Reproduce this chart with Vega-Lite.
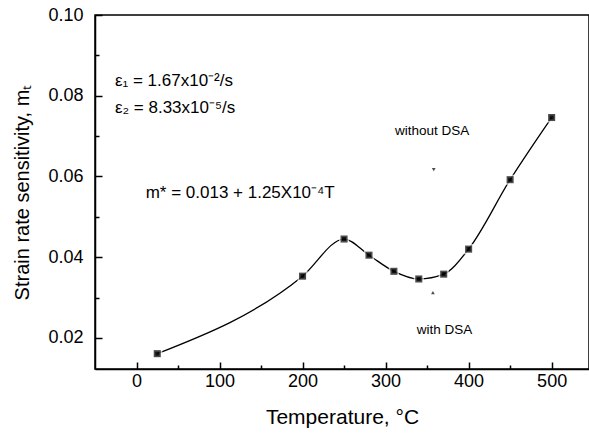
{
  "$schema": "https://vega.github.io/schema/vega-lite/v6.json",
  "width": 494,
  "height": 354,
  "autosize": "none",
  "padding": {"left": 95, "top": 15, "right": 0, "bottom": 65},
  "background": "white",
  "config": {
    "view": {"stroke": "black", "strokeWidth": 1.5},
    "font": "Liberation Sans",
    "axis": {"domainColor": "black", "domainWidth": 1.5, "tickColor": "black", "labelColor": "black", "titleColor": "black", "grid": false, "labelFont": "Liberation Sans", "titleFont": "Liberation Sans", "titleFontWeight": "normal", "zindex": 1}
  },
  "datasets": {
    "pts": [
      {"T": 25, "m": 0.0161},
      {"T": 200, "m": 0.0353},
      {"T": 250, "m": 0.0445},
      {"T": 280, "m": 0.0405},
      {"T": 310, "m": 0.0365},
      {"T": 340, "m": 0.0346},
      {"T": 370, "m": 0.0358},
      {"T": 400, "m": 0.042},
      {"T": 450, "m": 0.0592},
      {"T": 500, "m": 0.0746}
    ],
    "notesLeft": [
      {"T": -26, "m": 0.0836, "label": "ε₁ = 1.67x10⁻²/s"},
      {"T": -26, "m": 0.0770, "label": "ε₂ = 8.33x10⁻⁵/s"},
      {"T": 11, "m": 0.0560, "label": "m* = 0.013 + 1.25X10⁻⁴T"}
    ],
    "notesCenter": [
      {"T": 356, "m": 0.0713, "label": "without DSA"},
      {"T": 371, "m": 0.0220, "label": "with DSA"}
    ],
    "arrows": [
      {"T": 358, "m": 0.0617, "shape": "triangle-down"},
      {"T": 357, "m": 0.0312, "shape": "triangle-up"}
    ]
  },
  "resolve": {"axis": {"x": "independent", "y": "independent"}},
  "layer": [
    {
      "data": {"name": "pts"},
      "mark": {"type": "line", "interpolate": "monotone", "color": "black", "strokeWidth": 1.3},
      "encoding": {
        "x": {
          "field": "T", "type": "quantitative",
          "scale": {"domain": [-50, 545], "nice": false, "zero": false},
          "axis": {
            "orient": "bottom",
            "title": "Temperature, °C", "titleFontSize": 21, "titlePadding": 16,
            "values": [0, 100, 200, 300, 400, 500],
            "labelFontSize": 18, "labelPadding": 3,
            "ticks": false
          }
        },
        "y": {
          "field": "m", "type": "quantitative",
          "scale": {"domain": [0.0123, 0.1], "nice": false, "zero": false},
          "axis": {
            "orient": "left",
            "title": "Strain rate sensitivity, mₜ", "titleFontSize": 20, "titlePadding": 15,
            "values": [0.02, 0.04, 0.06, 0.08, 0.1],
            "format": ".2f",
            "labelFontSize": 18, "labelPadding": 12,
            "ticks": false
          }
        }
      }
    },
    {
      "data": {"name": "pts"},
      "mark": {"type": "point", "shape": "square", "filled": true, "size": 50, "color": "black", "stroke": "white", "strokeWidth": 3, "strokeOpacity": 1},
      "encoding": {
        "x": {"field": "T", "type": "quantitative",
          "axis": {"orient": "bottom", "offset": -7, "values": [0, 100, 200, 300, 400, 500], "labels": false, "title": null, "ticks": true, "tickSize": 7, "tickWidth": 1.5, "domain": false}},
        "y": {"field": "m", "type": "quantitative",
          "axis": {"orient": "left", "offset": -7, "values": [0.02, 0.04, 0.06, 0.08, 0.1], "labels": false, "title": null, "ticks": true, "tickSize": 7, "tickWidth": 1.5, "domain": false}}
      }
    },
    {
      "data": {"name": "pts"},
      "mark": {"type": "point", "shape": "square", "filled": true, "size": 50, "color": "black", "strokeWidth": 0},
      "encoding": {
        "x": {"field": "T", "type": "quantitative",
          "axis": {"orient": "bottom", "offset": -4, "values": [50, 150, 250, 350, 450], "labels": false, "title": null, "ticks": true, "tickSize": 4, "tickWidth": 1.5, "domain": false}},
        "y": {"field": "m", "type": "quantitative",
          "axis": {"orient": "left", "offset": -4, "values": [0.03, 0.05, 0.07, 0.09], "labels": false, "title": null, "ticks": true, "tickSize": 4, "tickWidth": 1.5, "domain": false}}
      }
    },
    {
      "data": {"name": "notesLeft"},
      "mark": {"type": "text", "baseline": "middle", "align": "left", "color": "black", "font": "Liberation Sans", "fontSize": 17},
      "encoding": {
        "x": {"field": "T", "type": "quantitative", "axis": null},
        "y": {"field": "m", "type": "quantitative", "axis": null},
        "text": {"field": "label"}
      }
    },
    {
      "data": {"name": "notesCenter"},
      "mark": {"type": "text", "baseline": "middle", "align": "center", "color": "black", "font": "Liberation Sans", "fontSize": 13.5},
      "encoding": {
        "x": {"field": "T", "type": "quantitative", "axis": null},
        "y": {"field": "m", "type": "quantitative", "axis": null},
        "text": {"field": "label"}
      }
    },
    {
      "data": {"name": "arrows"},
      "mark": {"type": "point", "filled": true, "size": 14, "color": "black"},
      "encoding": {
        "x": {"field": "T", "type": "quantitative", "axis": null},
        "y": {"field": "m", "type": "quantitative", "axis": null},
        "shape": {"field": "shape", "type": "nominal", "scale": null, "legend": null}
      }
    }
  ]
}
